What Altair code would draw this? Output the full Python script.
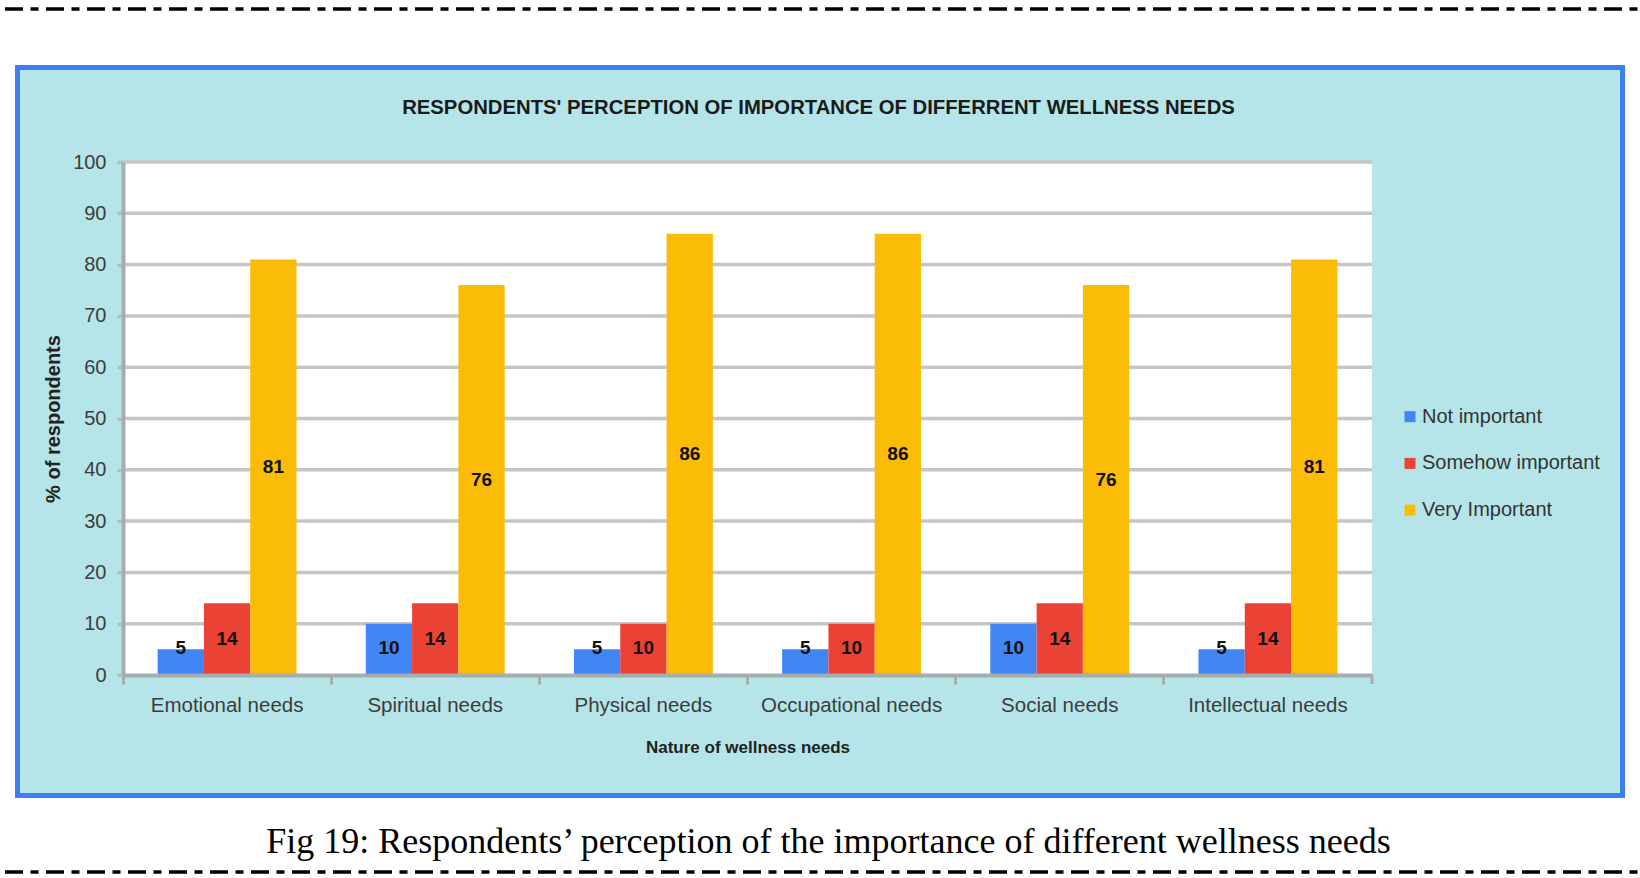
import altair as alt
import pandas as pd

# ---- data ----
categories = ["Emotional needs", "Spiritual needs", "Physical needs",
              "Occupational needs", "Social needs", "Intellectual needs"]
levels = ["Not important", "Somehow important", "Very Important"]
not_important = [5, 10, 5, 5, 10, 5]
somehow_important = [14, 14, 10, 10, 14, 14]
very_important = [81, 76, 86, 86, 76, 81]
y_ticks = [0, 10, 20, 30, 40, 50, 60, 70, 80, 90, 100]
grid_values = [10, 20, 30, 40, 50, 60, 70, 80, 90, 100]
colors = ["#4285F4", "#EA4335", "#FBBC05"]

chart_title = "RESPONDENTS' PERCEPTION OF IMPORTANCE OF DIFFERRENT WELLNESS NEEDS"
caption = "Fig 19: Respondents\u2019 perception of the importance of different wellness needs"
y_title = "% of respondents"
x_title = "Nature of wellness needs"

rows = []
for i, c in enumerate(categories):
    for lvl, vals in zip(levels, [not_important, somehow_important, very_important]):
        rows.append({"need": c, "level": lvl, "value": vals[i]})
df = pd.DataFrame(rows)

W, H = 1249, 513
FONT = "Liberation Sans"
AX = "#a4aeae"

x_enc = alt.X("need:N", sort=categories, title=x_title,
              scale=alt.Scale(paddingInner=0, paddingOuter=0),
              axis=alt.Axis(zindex=1, bandPosition=0, labelLimit=400,
                            labelAngle=0, labelFont=FONT, labelFontSize=20.5,
                            labelColor="#3c3c3c", labelBaseline="middle",
                            labelPadding=21, tickSize=9, tickWidth=3, tickColor=AX,
                            domainColor=AX, domainWidth=4, grid=False,
                            titleFont=FONT, titleFontSize=17, titleFontWeight="bold",
                            titleColor="#222222", titleX=W / 2, titleY=72,
                            titleBaseline="middle", titleAlign="center"))
xoff_enc = alt.XOffset("level:N", sort=levels,
                       scale=alt.Scale(paddingInner=0, paddingOuter=0.748))
y_axis = alt.Axis(zindex=1, values=y_ticks, grid=False, labelFont=FONT,
                  labelFontSize=20, labelColor="#3c3c3c", labelPadding=11,
                  tickSize=6, tickWidth=3.5, tickColor="#b8bebe",
                  domainColor=AX, domainWidth=4,
                  titleFont=FONT, titleFontSize=20, titleFontWeight="bold",
                  titleColor="#222222", titleAngle=270, titleX=-70, titleY=H / 2,
                  titleBaseline="middle", titleAlign="center")
y_scale = alt.Scale(domain=[0, 100], nice=False)

one = pd.DataFrame({"k": [0]})

panel = alt.Chart(one).mark_rect(fill="#b5e5e8", stroke="#3d7ff0", strokeWidth=5).encode(
    x=alt.value(-105.5), x2=alt.value(1499.5), y=alt.value(-94.5), y2=alt.value(633.5))

plot_bg = alt.Chart(one).mark_rect(fill="white").encode(
    x=alt.value(0), x2=alt.value(W), y=alt.value(0), y2=alt.value(H))

grid = alt.Chart(pd.DataFrame({"value": grid_values})).mark_rule(
    color="#c6c6c6", strokeWidth=3.5).encode(
    y=alt.Y("value:Q", scale=y_scale, axis=y_axis, title=y_title),
    x=alt.value(0), x2=alt.value(W))

bars = alt.Chart(df).mark_bar().encode(
    x=x_enc, xOffset=xoff_enc,
    y=alt.Y("value:Q", scale=y_scale, axis=y_axis, title=y_title),
    color=alt.Color("level:N", sort=levels,
                    scale=alt.Scale(domain=levels, range=colors),
                    legend=alt.Legend(title=None, orient="none", legendX=1277,
                                      legendY=244.7, symbolType="square",
                                      symbolSize=121, symbolStrokeWidth=0,
                                      labelFont=FONT, labelFontSize=20,
                                      labelLimit=400,
                                      labelColor="#333333", rowPadding=26.7,
                                      labelOffset=2, padding=0, zindex=1)))

labels = alt.Chart(df).transform_calculate(
    ypos="max(datum.value / 2, 5.2)").mark_text(
    font=FONT, fontSize=19, fontWeight="bold", color="#111111",
    baseline="middle", align="center").encode(
    x=x_enc, xOffset=xoff_enc,
    y=alt.Y("ypos:Q", scale=y_scale, axis=y_axis, title=y_title),
    text=alt.Text("value:Q"))

end_tick = alt.Chart(one).mark_rule(color=AX, strokeWidth=3).encode(
    x=alt.value(W), y=alt.value(H), y2=alt.value(H + 9))

title_txt = alt.Chart(pd.DataFrame({"t": [chart_title]})).mark_text(
    font=FONT, fontSize=20.3, fontWeight="bold", color="#1a1a1a",
    align="center", baseline="middle").encode(
    text="t:N", x=alt.value(695.5), y=alt.value(-54.5))

caption_txt = alt.Chart(pd.DataFrame({"t": [caption]})).mark_text(
    font="Liberation Serif", fontSize=36, color="#000000",
    align="center", baseline="alphabetic").encode(
    text="t:N", x=alt.value(705.5), y=alt.value(691))

dash_top = alt.Chart(one).mark_rule(color="#000000", strokeWidth=3.5,
                                     strokeDash=[18, 7.5, 8, 7.5]).encode(
    x=alt.value(-118), x2=alt.value(1640 - 123), y=alt.value(-153))
dash_bot = alt.Chart(one).mark_rule(color="#000000", strokeWidth=3.5,
                                     strokeDash=[18, 7.5, 8, 7.5]).encode(
    x=alt.value(-118), x2=alt.value(1640 - 123), y=alt.value(710))

chart = alt.layer(
    panel, plot_bg, grid, bars, labels, end_tick, title_txt, caption_txt,
    dash_top, dash_bot
).properties(
    width=W, height=H,
    autosize=alt.AutoSizeParams(type="none"),
    padding={"left": 123, "top": 162, "right": 1640 - 123 - W, "bottom": 878 - 162 - H},
    background="white",
).configure_view(strokeWidth=0)

chart.save("out.html", embed_options={"renderer": "svg", "actions": False})
